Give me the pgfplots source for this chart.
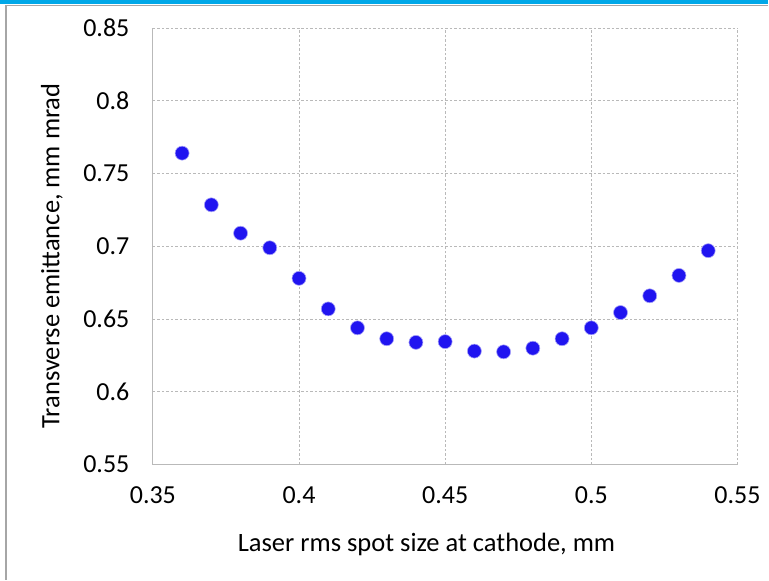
\documentclass[border=0pt]{standalone}
\usepackage{pgfplots}
\pgfplotsset{compat=1.18}
\usepackage{fontspec}
\setmainfont{Carlito}
\definecolor{dotblue}{RGB}{32,20,240}
\definecolor{gridgray}{RGB}{185,185,185}
\definecolor{topblue}{RGB}{0,168,232}
\begin{document}
\begin{tikzpicture}
\begin{axis}[
  scale only axis,
  width=585pt, height=437pt,
  xmin=0.35, xmax=0.55, ymin=0.55, ymax=0.85,
  xtick={0.35,0.4,0.45,0.5,0.55},
  ytick={0.55,0.6,0.65,0.7,0.75,0.8,0.85},
  xticklabels={0.35,0.4,0.45,0.5,0.55},
  yticklabels={0.55,0.6,0.65,0.7,0.75,0.8,0.85},
  major tick length=0pt,
  axis lines=left,
  axis line style={gridgray, line width=1.2pt, -},
  grid=major,
  major grid style={gridgray, dashed, dash pattern=on 2.5pt off 2pt, line width=0.8pt},
  tick label style={font=\fontsize{26}{30}\selectfont, black},
  xticklabel style={yshift=-18pt},
  yticklabel style={xshift=-20pt},
  xlabel={Laser rms spot size at cathode, mm},
  ylabel={Transverse emittance, mm mrad},
  every axis x label/.style={at={(rel axis cs:0.468,0)}, yshift=-80pt, anchor=center, font=\fontsize{26.5}{30}\selectfont},
  every axis y label/.style={at={(rel axis cs:0,0.478)}, xshift=-101pt, anchor=center, rotate=90, font=\fontsize{26.5}{30}\selectfont},
  clip=false,
]
\addplot[only marks, mark=*, mark size=7pt, mark options={fill=dotblue, draw=dotblue!40!white, line width=0.6pt}]
coordinates {
(0.36,0.764) (0.37,0.7285) (0.38,0.709) (0.39,0.699) (0.40,0.678)
(0.41,0.657) (0.42,0.644) (0.43,0.6365) (0.44,0.634) (0.45,0.6345)
(0.46,0.628) (0.47,0.6275) (0.48,0.630) (0.49,0.6365) (0.50,0.644)
(0.51,0.6545) (0.52,0.666) (0.53,0.680) (0.54,0.697)
};
\end{axis}
\path (-153pt,-115pt) rectangle (616pt,465pt);
\fill[topblue] (-153pt,461pt) rectangle (616pt,465pt);
\draw[gray!70, line width=1.2pt] (-147pt,-115pt) -- (-147pt,459.5pt) -- (616pt,459.5pt);
\end{tikzpicture}
\end{document}
